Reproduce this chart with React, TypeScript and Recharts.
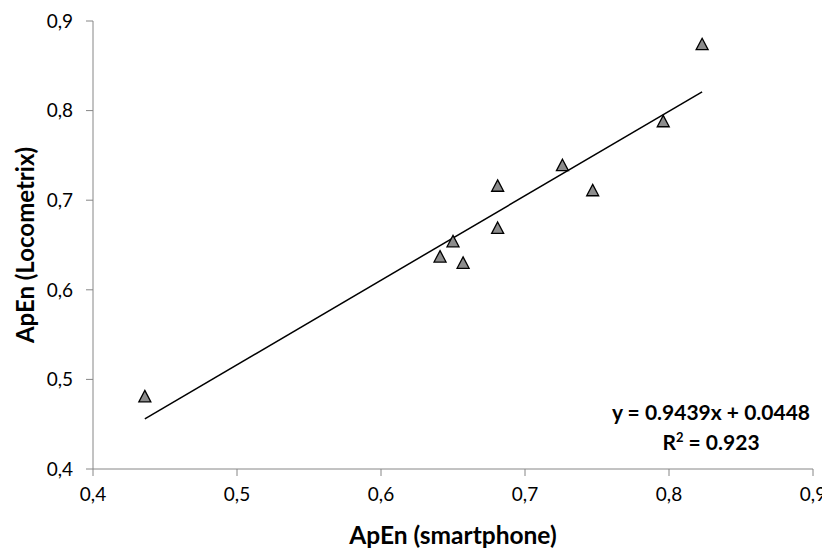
import {
  ScatterChart,
  Scatter,
  XAxis,
  YAxis,
  Label,
} from "recharts";

// measured points: ApEn smartphone (x) vs ApEn Locometrix (y)
const smartphone = [0.436, 0.641, 0.650, 0.657, 0.681, 0.681, 0.726, 0.747, 0.796, 0.823];
const locometrix = [0.481, 0.637, 0.654, 0.630, 0.669, 0.716, 0.739, 0.711, 0.788, 0.874];

// trendline end points
const trendX = [0.436, 0.823];
const trendY = [0.456, 0.821];

const ticks = [0.4, 0.5, 0.6, 0.7, 0.8, 0.9];

const points = smartphone.map((x, i) => ({ x, y: locometrix[i] }));
const trend = trendX.map((x, i) => ({ x, y: trendY[i] }));

const FONT = "Lato, 'Open Sans', sans-serif";
const fmt = (v: number) => v.toFixed(1).replace(".", ",");

// grey triangle marker
const Triangle = (props: any) => {
  const { cx, cy } = props;
  const s = 6;
  return (
    <path
      d={`M${cx},${cy - s} L${cx + s},${cy + s * 0.9} L${cx - s},${cy + s * 0.9} Z`}
      fill="#8c8c8c"
      stroke="#000"
      strokeWidth={1.3}
    />
  );
};

export default function App() {
  return (
    <div style={{ position: "relative", width: 822, height: 543, fontFamily: FONT }}>
      <ScatterChart
        width={822}
        height={543}
        margin={{ top: 13, right: 17, bottom: 7, left: 0 }}
      >
        <XAxis
          type="number"
          dataKey="x"
          domain={[0.4, 0.9]}
          ticks={ticks}
          tickFormatter={fmt}
          height={75}
          stroke="#868686"
          tickSize={7}
          tickMargin={12}
          tick={{ fill: "#000", fontSize: 19, fontFamily: FONT }}
        >
          <Label
            value="ApEn (smartphone)"
            position="insideBottom"
            offset={0}
            style={{ fontSize: 24.5, fontWeight: 700, fill: "#000", fontFamily: FONT }}
          />
        </XAxis>
        <YAxis
          type="number"
          dataKey="y"
          domain={[0.4, 0.9]}
          ticks={ticks}
          tickFormatter={fmt}
          width={85}
          stroke="#868686"
          tickSize={7}
          tickMargin={13}
          tick={{ fill: "#000", fontSize: 19, fontFamily: FONT }}
        >
          <Label
            value="ApEn (Locometrix)"
            angle={-90}
            position="insideLeft"
            offset={17}
            style={{ textAnchor: "middle", fontSize: 24, fontWeight: 700, fill: "#000", fontFamily: FONT }}
          />
        </YAxis>
        <Scatter
          data={trend}
          line={{ stroke: "#000", strokeWidth: 1.5 }}
          shape={() => null}
          isAnimationActive={false}
        />
        <Scatter data={points} shape={<Triangle />} isAnimationActive={false} />
      </ScatterChart>
      <div
        style={{
          position: "absolute",
          left: 583,
          top: 389,
          width: 240,
          textAlign: "center",
          fontSize: 21,
          fontWeight: 700,
          lineHeight: "30px",
          color: "#000",
        }}
      >
        <div>y = 0.9439x + 0.0448</div>
        <div>
          R<sup style={{ fontSize: 13, lineHeight: 0 }}>2</sup> = 0.923
        </div>
      </div>
    </div>
  );
}
